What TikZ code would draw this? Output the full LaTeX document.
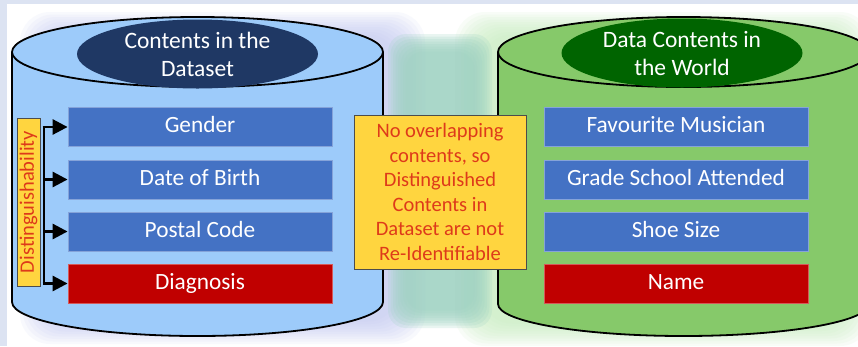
\documentclass[tikz,border=0pt]{standalone}
\usepackage{fontspec}
\setmainfont{Carlito}
\usetikzlibrary{shapes.geometric,arrows.meta,calc}
\definecolor{frameC}{HTML}{DCE3F2}
\definecolor{cylblue}{HTML}{9DCBFA}
\definecolor{cylgreen}{HTML}{86C96A}
\definecolor{navyC}{HTML}{1F3864}
\definecolor{dgreen}{HTML}{006400}
\definecolor{boxblue}{HTML}{4472C4}
\definecolor{boxred}{HTML}{C00000}
\definecolor{yel}{HTML}{FFD53F}
\definecolor{redtxt}{HTML}{DE3A1A}
\definecolor{glowL}{HTML}{BFC5F2}
\definecolor{glowR}{HTML}{C8EEC0}
\definecolor{glowM}{HTML}{9ED2C2}
\begin{document}
\begin{tikzpicture}[x=1pt,y=-1pt,
  field/.style={draw=#1!65!white, fill=#1, line width=0.8pt, minimum width=264pt,
    minimum height=39pt, inner sep=0pt, text=white, text height=15.5pt, text depth=4.5pt,
    font=\fontsize{23.3}{27}\selectfont},
  head/.style={ellipse, fill=#1, minimum width=241pt, minimum height=69pt, inner sep=0pt,
    text=white, align=center, font=\fontsize{23.5}{28}\selectfont},
  outline/.style={draw=black, line width=1.8pt},
  arr/.style={line width=2.8pt, -{Triangle[length=15pt,width=15pt]}},
  note/.style={draw=black!70, line width=0.7pt, fill=yel, text=redtxt, inner sep=0pt}
]
\useasboundingbox (0,0) rectangle (858,346);
\fill[frameC] (0,0) rectangle (858,346);
\fill[white] (7,4) rectangle (858,346);
\begin{scope}
\clip (7,4) rectangle (858,346);
% soft glows
\foreach \i in {0,...,9}{
  \fill[glowL, opacity=0.1, rounded corners=30] (20+\i*3,12+\i*2.5) rectangle (425-\i*3,344-\i*2.5);
  \fill[glowR, opacity=0.12, rounded corners=30] (455+\i*3,12+\i*2.5) rectangle (870-\i*3,346-\i*2.5);
}
\foreach \i in {0,...,7}{
  \fill[glowM, opacity=0.22, rounded corners=18] (388+\i*2.5,34+\i*2.5) rectangle (492-\i*2.5,328-\i*2.5);
}
% left cylinder
\fill[cylblue] (12,52) -- (12,302) arc[start angle=180,end angle=0,x radius=185.5,y radius=34] -- (383,52) -- cycle;
\draw[outline] (12,52) -- (12,302) arc[start angle=180,end angle=0,x radius=185.5,y radius=34] -- (383,52);
\draw[outline, fill=cylblue] (197.5,52) ellipse[x radius=185.5,y radius=35];
% right cylinder
\fill[cylgreen] (498,52) -- (498,304) arc[start angle=180,end angle=0,x radius=185.5,y radius=32] -- (869,52) -- cycle;
\draw[outline] (498,52) -- (498,304) arc[start angle=180,end angle=0,x radius=185.5,y radius=32] -- (869,52);
\draw[outline, fill=cylgreen] (683.5,52) ellipse[x radius=185.5,y radius=35];
\end{scope}

% headings
\node[head=navyC] (hleft) at (197.5,54) {Contents in the\\Dataset};
\node[head=dgreen] (hright) at (682,53) {Data Contents in\\the World};

% left fields
\node[field=boxblue] (gender) at (200,127) {Gender};
\node[field=boxblue] (dob) at (200,179.5) {Date of Birth};
\node[field=boxblue] (postal) at (200,231.5) {Postal Code};
\node[field=boxred] (diag) at (200,283.5) {Diagnosis};

% right fields
\node[field=boxblue] (music) at (676,127) {Favourite Musician};
\node[field=boxblue] (school) at (676,179.5) {Grade School Attended};
\node[field=boxblue] (shoe) at (676,231.5) {Shoe Size};
\node[field=boxred] (name) at (676,283.5) {Name};

% middle note
\node[note, minimum width=172pt, minimum height=154pt, align=center,
  font=\fontsize{20.5}{24.6}\selectfont] (mid) at (440,192)
  {No overlapping\\contents, so\\Distinguished\\Contents in\\Dataset are not\\Re-Identifiable};

% distinguishability
\node[note, rotate=90, minimum width=168pt, minimum height=23pt,
  font=\fontsize{20.5}{22}\selectfont] (dist) at (28.5,202) {Distinguishability};
\coordinate (bar) at (44,0);
\draw[line width=2.8pt] (bar |- gender.west) -- (bar |- diag.west);
\draw[arr] ([xshift=-1.4pt]bar |- gender.west) -- (gender.west);
\draw[arr] (bar |- dob.west) -- (dob.west);
\draw[arr] (bar |- postal.west) -- (postal.west);
\draw[arr] ([xshift=-1.4pt]bar |- diag.west) -- (diag.west);
\end{tikzpicture}
\end{document}
